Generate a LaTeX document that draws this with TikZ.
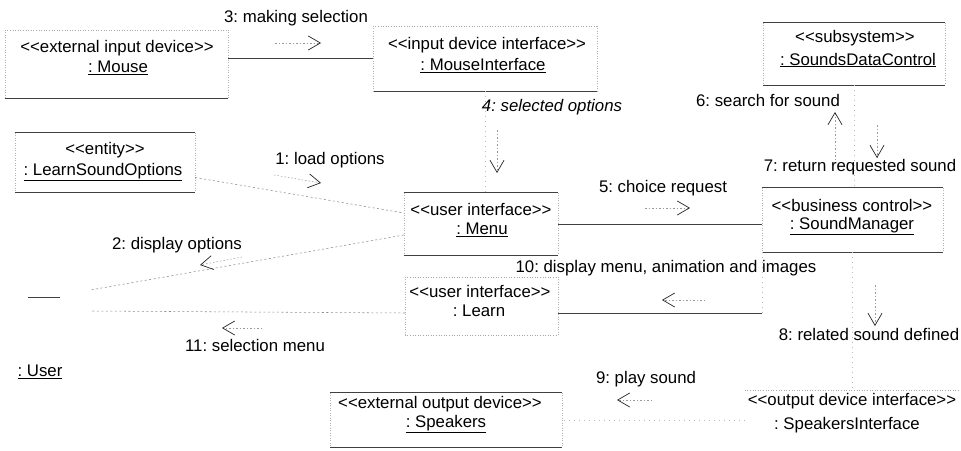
\documentclass[tikz,border=0pt]{standalone}
\usepackage{fontspec}
\newfontfamily\umlfont{Liberation Sans}
\usetikzlibrary{arrows.meta}
\frenchspacing
\begin{document}
\begin{tikzpicture}[x=1pt,y=-1pt,
  box/.style={rectangle, draw=none, inner sep=0pt},
  txt/.style={font={\umlfont\fontsize{16.8}{20}\selectfont\frenchspacing}, inner sep=0pt, text=black},
  hline/.style={draw=black!75, line width=0.75pt},
  fline/.style={draw=black!35, dotted, line width=0.6pt},
  vline/.style={draw=black!30, dotted, line width=0.5pt},
  strong/.style={draw=black!75, line width=0.75pt},
  weak/.style={draw=black!45, dash pattern=on 2pt off 2.5pt, line width=0.55pt},
  faint/.style={draw=black!28, dash pattern=on 1pt off 4pt, line width=0.5pt},
  msg/.style={draw=black!40, dash pattern=on 1.5pt off 2pt, line width=0.5pt,
    -{Straight Barb[length=12pt,width=14pt,line width=0.7pt,color=black!85]}},
]
\fill[white] (0,0) rectangle (961,450);
\useasboundingbox (0,0) rectangle (961,450);

% object boxes
\node[box, minimum width=223pt, minimum height=68pt] (mouse) at (116.5,64) {};
\node[box, minimum width=224pt, minimum height=65pt] (mi) at (485,58.5) {};
\node[box, minimum width=182pt, minimum height=62pt] (sdc) at (854,54) {};
\node[box, minimum width=180pt, minimum height=59pt] (lso) at (105,162.5) {};
\node[box, minimum width=154pt, minimum height=62pt] (menu) at (481,224) {};
\node[box, minimum width=181pt, minimum height=64pt] (sm) at (852.5,220) {};
\node[box, minimum width=153pt, minimum height=58pt] (learn) at (481.5,306) {};
\node[box, minimum width=232pt, minimum height=54pt] (spk) at (446,420) {};
\node[box, minimum width=213pt, minimum height=56pt] (si) at (851.5,418) {};
\node[box, minimum width=90pt, minimum height=40pt] (user) at (45,300) {};

% box edges
\foreach \n in {sdc,lso,menu,sm,spk} \draw[hline] (\n.north west) -- (\n.north east);
\foreach \n in {mouse,mi,learn,si} \draw[fline] (\n.north west) -- (\n.north east);
\foreach \n in {mouse,mi,sdc,lso,menu,sm,spk} \draw[hline] (\n.south west) -- (\n.south east);
\foreach \n in {learn} \draw[fline] (\n.south west) -- (\n.south east);
\foreach \n in {mouse,mi,sdc,lso,menu,sm,spk,learn} {
  \draw[vline] (\n.north west) -- (\n.south west);
  \draw[vline] (\n.north east) -- (\n.south east);
}

% box texts
\node[txt] (mouse-s) at (117,48) {<<external input device>>};
\node[txt] (mouse-n) at (118,68) {\underline{: Mouse}};
\node[txt] (mi-s) at (487,45) {<<input device interface>>};
\node[txt] (mi-n) at (483,66) {\underline{: MouseInterface}};
\node[txt] (sdc-s) at (855,38) {<<subsystem>>};
\node[txt] (sdc-n) at (858,60) {\underline{: SoundsDataControl}};
\node[txt] (lso-s) at (105,150) {<<entity>>};
\node[txt] (lso-n) at (103,172) {\underline{: LearnSoundOptions}};
\node[txt] (menu-s) at (481,209) {<<user interface>>};
\node[txt] (menu-n) at (482,230) {\underline{: Menu}};
\node[txt] (sm-s) at (852,205) {<<business control>>};
\node[txt] (sm-n) at (852,226) {\underline{: SoundManager}};
\node[txt] (learn-s) at (480,291) {<<user interface>>};
\node[txt] (learn-n) at (479,311) {: Learn};
\node[txt] (spk-s) at (440,404) {<<external output device>>};
\node[txt] (spk-n) at (446,424) {\underline{: Speakers}};
\node[txt] (si-s) at (852,401) {<<output device interface>>};
\node[txt] (si-n) at (847,425) {: SpeakersInterface};
\node[txt] (user-n) at (40,372) {\underline{: User}};
\draw[hline] ([xshift=-17pt,yshift=3pt]user.center) -- ([xshift=15pt,yshift=3pt]user.center);

% links
\draw[strong] (mouse.east |- mi.west) -- (mi.west);
\draw[faint] (mi.south) -- (mi.south |- menu.north);
\draw[faint] (sdc.south) -- (sdc.south |- sm.north);
\draw[weak] ([yshift=-15pt]lso.east) -- ([yshift=11pt]menu.west);
\draw[weak] ([yshift=-11pt]menu.west) -- ([yshift=10pt]user.east);
\draw[weak] ([yshift=-7pt]learn.west) -- ([yshift=-11pt]user.east);
\draw[strong] (menu.east) -- (menu.east -| sm.west);
\draw[strong] ([yshift=-7pt]learn.east) -- ([yshift=-7pt]learn.east -| sm.south west);
\draw[faint] ([yshift=-7pt]learn.east -| sm.south west) -- (sm.south west);
\draw[faint] (sm.south) -- (sm.south |- si.north);
\draw[faint] (si.west |- spk.east) -- (spk.east);

% message labels
\node[txt] (l3) at (296,18) {3: making selection};
\node[txt] (l4) at (552,107) {\itshape 4: selected options};
\node[txt] (l6) at (768,100) {6: search for sound};
\node[txt] (l7) at (860,167) {7: return requested sound};
\node[txt] (l1) at (330,160) {1: load options};
\node[txt] (l5) at (663,188) {5: choice request};
\node[txt] (l2) at (177,245) {2: display options};
\node[txt] (l10) at (666,268) {10: display menu, animation and images};
\node[txt] (l11) at (255,345) {11: selection menu};
\node[txt] (l8) at (869,334) {8: related sound defined};
\node[txt] (l9) at (646,379) {9: play sound};

% message direction arrows
\draw[msg] (275,43) -- (321,43);
\draw[msg] (274,175) -- (321,183);
\draw[msg] (497,130) -- (497,173);
\draw[msg] (645,208) -- (690,208);
\draw[msg] (835,160) -- (835,112);
\draw[msg] (877,125) -- (877,158);
\draw[msg] (875,285) -- (875,326);
\draw[msg] (705,300) -- (662,300);
\draw[msg] (242,257) -- (200,265);
\draw[msg] (262,328) -- (222,328);
\draw[msg] (652,400) -- (617,400);
\end{tikzpicture}
\end{document}
